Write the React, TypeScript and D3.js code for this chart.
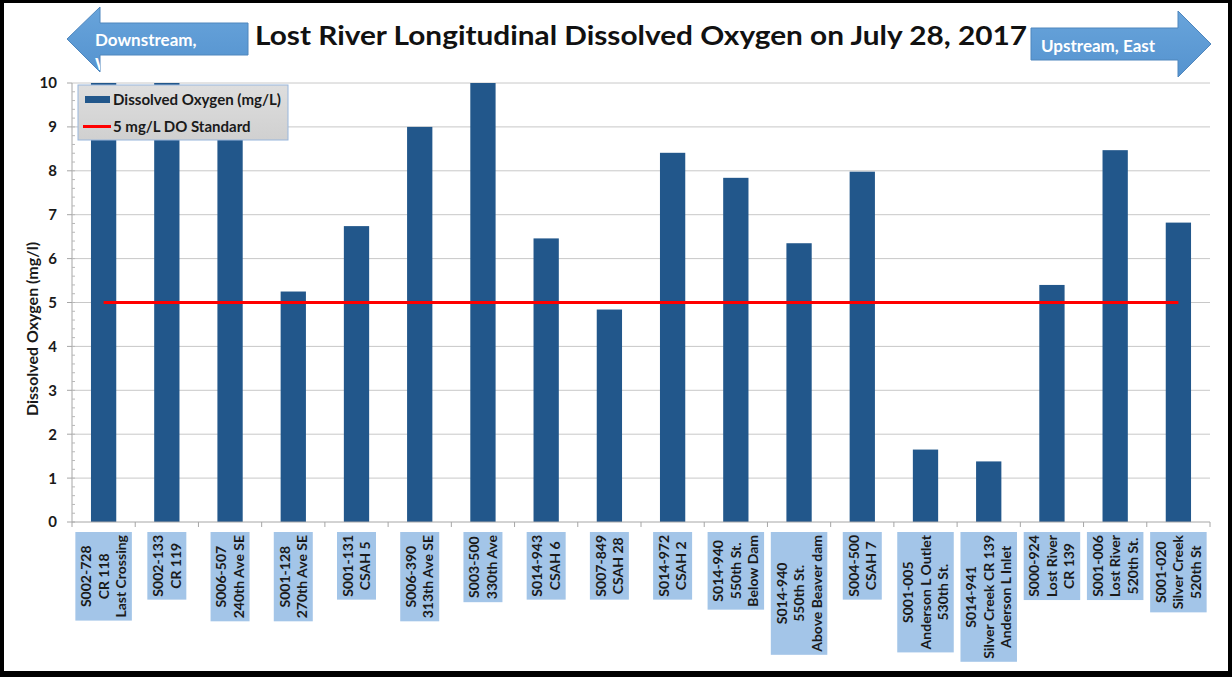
import React, { useEffect, useRef } from "react";
import * as d3 from "d3";

const W = 1232;
const H = 677;

const siteLabels: string[][] = [
  ["S002-728", "CR 118", "Last Crossing"],
  ["S002-133", "CR 119"],
  ["S006-507", "240th Ave SE"],
  ["S001-128", "270th Ave SE"],
  ["S001-131", "CSAH 5"],
  ["S006-390", "313th Ave SE"],
  ["S003-500", "330th Ave"],
  ["S014-943", "CSAH 6"],
  ["S007-849", "CSAH 28"],
  ["S014-972", "CSAH 2"],
  ["S014-940", "550th St.", "Below Dam"],
  ["S014-940", "550th St.", "Above Beaver dam"],
  ["S004-500", "CSAH 7"],
  ["S001-005", "Anderson L Outlet", "530th St."],
  ["S014-941", "Silver Creek CR 139", "Anderson L Inlet"],
  ["S000-924", "Lost River", "CR 139"],
  ["S001-006", "Lost River", "520th St."],
  ["S001-020", "Silver Creek", "520th St"],
];

const doValues: number[] = [
  10.0, 10.0, 9.5, 5.25, 6.74, 9.0, 10.0, 6.46, 4.84, 8.41, 7.84, 6.35, 7.98,
  1.65, 1.38, 5.4, 8.47, 6.82,
];

const doStandard = 5;
const yTicks: number[] = [0, 1, 2, 3, 4, 5, 6, 7, 8, 9, 10];

const titleText = "Lost River Longitudinal Dissolved Oxygen on July 28, 2017";
const yAxisTitle = "Dissolved Oxygen (mg/l)";
const legendBar = "Dissolved Oxygen (mg/L)";
const legendLine = "5 mg/L DO Standard";
const leftArrowLines = ["Downstream,", "West"];
const rightArrowText = "Upstream, East";

const FONT = "Lato, 'Open Sans', 'DejaVu Sans', sans-serif";

export default function App() {
  const ref = useRef<SVGSVGElement | null>(null);

  useEffect(() => {
    const svg = d3.select(ref.current);
    svg.selectAll("*").remove();

    // frame
    svg.append("rect").attr("x", 0).attr("y", 0).attr("width", W).attr("height", H).attr("fill", "#000");
    svg.append("rect").attr("x", 4).attr("y", 3).attr("width", W - 8).attr("height", H - 9).attr("fill", "#fff");

    const plotL = 72, plotR = 1210, plotT = 83, plotB = 522;
    const x = d3.scaleBand<number>().domain(d3.range(siteLabels.length)).range([plotL, plotR]).paddingInner(0.6).paddingOuter(0.3);
    const xOuter = d3.scaleBand<number>().domain(d3.range(siteLabels.length)).range([plotL, plotR]);
    const y = d3.scaleLinear().domain([0, 10]).range([plotB, plotT]);

    // gridlines
    svg.append("g").selectAll("line").data(yTicks.filter((d) => d > 0)).join("line")
      .attr("x1", plotL).attr("x2", plotR)
      .attr("y1", (d) => y(d)).attr("y2", (d) => y(d))
      .attr("stroke", "#c8c8c8").attr("stroke-width", 1);

    // y axis
    const ya = svg.append("g");
    ya.append("line").attr("x1", plotL).attr("x2", plotL).attr("y1", plotT).attr("y2", plotB).attr("stroke", "#a6a6a6");
    ya.selectAll("line.minor").data(d3.range(0, 50).map((i) => i * 0.2)).join("line").attr("class", "minor")
      .attr("x1", plotL).attr("x2", plotL + 3)
      .attr("y1", (d) => y(d)).attr("y2", (d) => y(d)).attr("stroke", "#b8b8b8");
    ya.selectAll("line.major").data(yTicks).join("line").attr("class", "major")
      .attr("x1", plotL - 5).attr("x2", plotL)
      .attr("y1", (d) => y(d)).attr("y2", (d) => y(d)).attr("stroke", "#a6a6a6");
    ya.selectAll("text").data(yTicks).join("text")
      .attr("x", 57).attr("y", (d) => y(d)).attr("dy", "0.36em")
      .attr("text-anchor", "end").attr("font-family", FONT).attr("font-weight", "bold")
      .attr("font-size", 15).attr("fill", "#1a1a1a").text((d) => String(d));

    svg.append("text")
      .attr("transform", `translate(38,329) rotate(-90)`)
      .attr("text-anchor", "middle").attr("font-family", FONT).attr("font-weight", "bold")
      .attr("font-size", 16).attr("fill", "#1a1a1a").text(yAxisTitle);

    // bars
    svg.append("g").selectAll("rect").data(doValues).join("rect")
      .attr("x", (_, i) => x(i)!)
      .attr("width", x.bandwidth())
      .attr("y", (d) => y(Math.min(d, 10)))
      .attr("height", (d) => plotB - y(Math.min(d, 10)))
      .attr("fill", "#22578b");

    // x axis
    const xa = svg.append("g");
    xa.append("line").attr("x1", plotL).attr("x2", plotR).attr("y1", plotB).attr("y2", plotB).attr("stroke", "#a6a6a6");
    xa.selectAll("line.t").data(d3.range(siteLabels.length + 1)).join("line").attr("class", "t")
      .attr("x1", (i) => plotL + i * xOuter.bandwidth()).attr("x2", (i) => plotL + i * xOuter.bandwidth())
      .attr("y1", plotB).attr("y2", plotB + 5).attr("stroke", "#a6a6a6");

    // standard line
    const xc = (i: number) => x(i)! + x.bandwidth() / 2;
    svg.append("line")
      .attr("x1", xc(0)).attr("x2", xc(siteLabels.length - 1))
      .attr("y1", y(doStandard)).attr("y2", y(doStandard))
      .attr("stroke", "#ff0000").attr("stroke-width", 3);

    // category labels
    const lh = 17.5;
    const lbTop = 532;
    siteLabels.forEach((lines, i) => {
      const cx = xc(i);
      const g = svg.append("g");
      const box = g.append("rect").attr("fill", "#a3c5e8");
      let maxLen = 0;
      const texts = lines.map((ln) => {
        const t = g.append("text")
          .attr("font-family", FONT).attr("font-weight", "bold").attr("font-size", 14)
          .attr("fill", "#1a1a1a").attr("text-anchor", "middle").text(ln);
        const len = (t.node() as SVGTextElement).getComputedTextLength();
        maxLen = Math.max(maxLen, len);
        return t;
      });
      const n = lines.length;
      const cy = lbTop + 3 + maxLen / 2;
      texts.forEach((t, j) => {
        const tx = cx + (j - (n - 1) / 2) * lh + 5;
        t.attr("transform", `translate(${tx},${cy}) rotate(-90)`);
      });
      const bw = n * lh + 4;
      box.attr("x", cx - bw / 2).attr("y", lbTop).attr("width", bw).attr("height", maxLen + 6);
    });

    // legend
    const defs = svg.append("defs");
    const lg = defs.append("linearGradient").attr("id", "lgGrad").attr("x1", 0).attr("y1", 0).attr("x2", 0).attr("y2", 1);
    lg.append("stop").attr("offset", "0%").attr("stop-color", "#dedede");
    lg.append("stop").attr("offset", "100%").attr("stop-color", "#d0d0d0");
    const leg = svg.append("g");
    leg.append("rect").attr("x", 78).attr("y", 85).attr("width", 210).attr("height", 55)
      .attr("fill", "url(#lgGrad)").attr("stroke", "#98b6dc").attr("stroke-width", 1);
    leg.append("rect").attr("x", 85).attr("y", 96).attr("width", 25).attr("height", 7).attr("fill", "#22578b");
    leg.append("text").attr("x", 113).attr("y", 105).attr("font-family", FONT).attr("font-weight", "bold")
      .attr("font-size", 15).attr("textLength", 168).attr("lengthAdjust", "spacingAndGlyphs")
      .attr("fill", "#1a1a1a").text(legendBar);
    leg.append("line").attr("x1", 83).attr("x2", 111).attr("y1", 126.5).attr("y2", 126.5)
      .attr("stroke", "#ff0000").attr("stroke-width", 3);
    leg.append("text").attr("x", 113).attr("y", 132).attr("font-family", FONT).attr("font-weight", "bold")
      .attr("font-size", 15).attr("fill", "#1a1a1a").text(legendLine);

    // title
    svg.append("text").attr("x", 641).attr("y", 45).attr("text-anchor", "middle")
      .attr("font-family", FONT).attr("font-weight", "bold").attr("font-size", 26)
      .attr("textLength", 772).attr("lengthAdjust", "spacingAndGlyphs")
      .attr("fill", "#111").text(titleText);

    // arrows
    const ag = defs.append("linearGradient").attr("id", "arGrad").attr("x1", 0).attr("y1", 0).attr("x2", 0).attr("y2", 1);
    ag.append("stop").attr("offset", "0%").attr("stop-color", "#68a4db");
    ag.append("stop").attr("offset", "100%").attr("stop-color", "#5593cf");

    const leftPts: [number, number][] = [[67, 39], [100, 7], [100, 23], [248, 23], [248, 55], [100, 55], [100, 72]];
    const rightPts: [number, number][] = [[1031, 28], [1178, 28], [1178, 11], [1211, 44], [1178, 77], [1178, 60], [1031, 60]];
    const poly = (p: [number, number][]) => "M" + p.map((q) => q.join(",")).join("L") + "Z";

    defs.append("clipPath").attr("id", "leftClip").append("path").attr("d", poly(leftPts));
    svg.append("path").attr("d", poly(leftPts)).attr("fill", "url(#arGrad)").attr("stroke", "#4f86bd").attr("stroke-width", 1);
    const lt = svg.append("g").attr("clip-path", "url(#leftClip)");
    leftArrowLines.forEach((s, i) => {
      lt.append("text").attr("x", 95).attr("y", 46 + i * 24).attr("font-family", FONT).attr("font-weight", "bold")
        .attr("font-size", 17).attr("fill", "#ffffff").text(s);
    });
    svg.append("path").attr("d", poly(rightPts)).attr("fill", "url(#arGrad)").attr("stroke", "#4f86bd").attr("stroke-width", 1);
    svg.append("text").attr("x", 1041).attr("y", 52).attr("font-family", FONT).attr("font-weight", "bold")
      .attr("font-size", 17).attr("fill", "#ffffff").text(rightArrowText);
  }, []);

  return (
    <svg
      ref={ref}
      width={W}
      height={H}
      style={{ position: "absolute", left: 0, top: 0, display: "block" }}
    />
  );
}
